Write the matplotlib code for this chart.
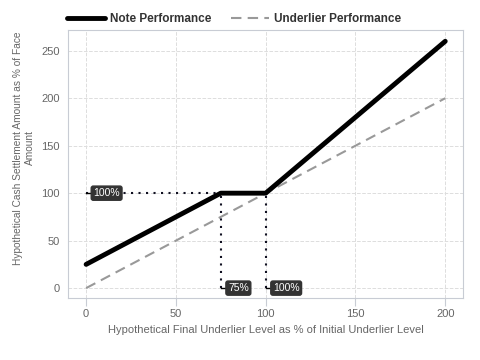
import matplotlib
matplotlib.use("Agg")
import matplotlib.pyplot as plt

plt.rcParams["font.family"] = ["Liberation Sans", "DejaVu Sans"]

# underlier levels (% of initial) and payoffs
note_x = [0, 75, 100, 200]
note_y = [25, 100, 100, 260]
und_x = [0, 200]
und_y = [0, 200]

buffer_level = 75
cap_start = 100
note_level = 100

xticks = [0, 50, 100, 150, 200]
yticks = [0, 50, 100, 150, 200, 250]

fig = plt.figure(figsize=(4.8, 3.6), dpi=100)
ax = fig.add_axes([0.142, 0.172, 0.823, 0.745])

ax.grid(True, color="#dddddd", linestyle="--", linewidth=0.7)
ax.set_axisbelow(True)

ax.plot(note_x, note_y, color="black", linewidth=3.5, label="Note Performance",
        solid_capstyle="round", zorder=3)
ax.plot(und_x, und_y, color="#999999", linewidth=1.5, linestyle=(0, (5, 3)),
        label="Underlier Performance", zorder=2)

# dotted reference lines
dot = dict(color="#111122", linewidth=1.5, linestyle=(0, (1, 2.6)), zorder=2)
ax.plot([0, buffer_level], [note_level, note_level], **dot)
ax.plot([buffer_level, buffer_level], [0, note_level], **dot)
ax.plot([cap_start, cap_start], [0, note_level], **dot)

box = dict(boxstyle="round,pad=0.2", fc="#333333", ec="#333333")
for x, y, s in [(0, note_level, "100%"), (buffer_level, 0, "75%"), (cap_start, 0, "100%")]:
    ax.plot([x, x + 3], [y, y], color="black", linewidth=1, zorder=3)
    ax.text(x + 4, y, s, color="white", fontsize=7.5, va="center", ha="left",
            bbox=box, zorder=4)

ax.set_xlim(-10, 210)
ax.set_ylim(-10.5, 272)
ax.set_xticks(xticks)
ax.set_yticks(yticks)
ax.tick_params(colors="#666666", labelsize=8, width=0.8)
ax.tick_params(axis="x", color="#c8ccd4", length=6, pad=2)
ax.tick_params(axis="y", length=0, pad=6)
for sp in ax.spines.values():
    sp.set_color("#c8ccd4")

ax.set_xlabel("Hypothetical Final Underlier Level as % of Initial Underlier Level",
              color="#666666", fontsize=8, labelpad=4)
ax.set_ylabel("Hypothetical Cash Settlement Amount as % of Face\nAmount",
              color="#666666", fontsize=7.3)
ax.yaxis.set_label_coords(-0.085, 0.56)

leg = fig.legend(loc="center left", bbox_to_anchor=(0.117, 0.946), ncol=2, frameon=False,
                 prop={"weight": "bold", "size": 8.5}, handlelength=3.2, columnspacing=1.6,
                 handletextpad=0.5)
for t in leg.get_texts():
    t.set_color("#333333")

fig.savefig("out.png")
